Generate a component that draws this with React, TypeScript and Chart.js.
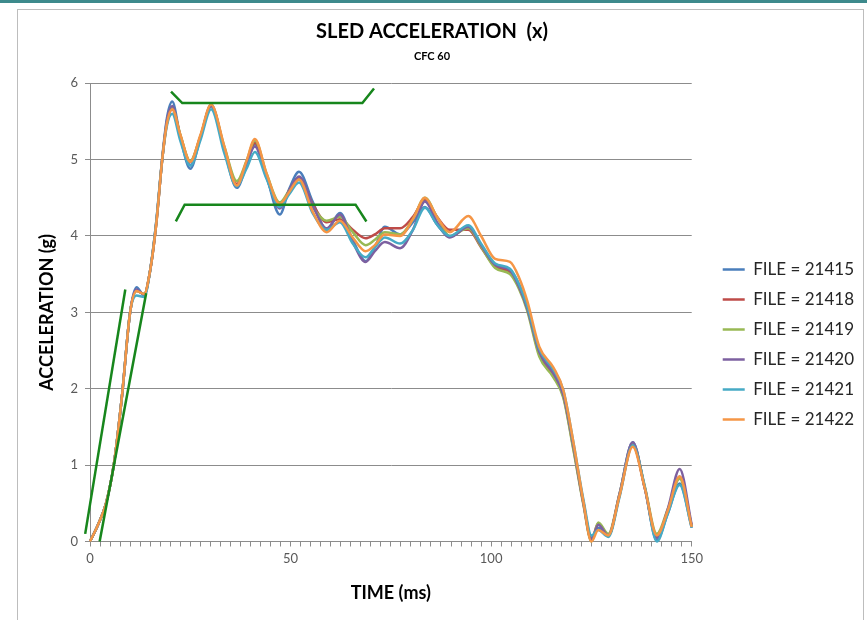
import React, { useEffect, useRef } from "react";
import { Chart, registerables } from "chart.js";

Chart.register(...registerables);

// ---- data (time in ms, acceleration in g) ----
const TIME = [
  0, 2, 4, 6, 8, 10, 11.6, 13.5, 15, 16.5, 18, 19.2, 20.5, 22.5, 25, 27.5, 30.2, 33.5, 36.6, 39,
  41.1, 44, 47.3, 49.7, 52.1, 55.5, 59, 62.3, 65.5, 68.7, 71, 73.5, 77.3, 80.5, 83.5, 86.5, 89.7,
  94.3, 97.5, 101, 104.7, 107, 109, 112, 115.5, 118, 120.5, 123, 125, 126.7, 129.2, 132, 135.3,
  138.3, 141.3, 144, 147, 150,
];

const FILE_LABELS = [
  "FILE = 21415",
  "FILE = 21418",
  "FILE = 21419",
  "FILE = 21420",
  "FILE = 21421",
  "FILE = 21422",
];

const FILE_21415 = [
  0, 0.22, 0.5, 1.03, 1.92, 3.0, 3.33, 3.22, 3.55, 4.18, 5.02, 5.55, 5.76, 5.3, 4.88, 5.28, 5.72,
  5.12, 4.63, 4.92, 5.2, 4.78, 4.28, 4.62, 4.84, 4.45, 4.08, 4.3, 3.95, 3.67, 3.85, 4.12, 4.02,
  4.18, 4.38, 4.15, 3.99, 4.12, 3.88, 3.62, 3.55, 3.36, 3.05, 2.5, 2.22, 1.95, 1.25, 0.52, 0.05,
  0.18, 0.07, 0.62, 1.3, 0.7, 0.02, 0.36, 0.76, 0.18,
];
const FILE_21418 = [
  0, 0.22, 0.5, 1.03, 1.92, 3.0, 3.28, 3.24, 3.55, 4.15, 5.0, 5.48, 5.66, 5.32, 4.97, 5.3, 5.7,
  5.15, 4.68, 4.95, 5.22, 4.8, 4.4, 4.6, 4.76, 4.42, 4.18, 4.22, 4.08, 3.97, 4.02, 4.1, 4.1, 4.25,
  4.47, 4.25, 4.08, 4.08, 3.85, 3.6, 3.52, 3.32, 3.05, 2.45, 2.18, 1.9, 1.22, 0.5, 0.02, 0.24, 0.08,
  0.6, 1.27, 0.7, 0.06, 0.4, 0.85, 0.2,
];
const FILE_21419 = [
  0, 0.22, 0.5, 1.03, 1.92, 3.0, 3.28, 3.24, 3.55, 4.15, 5.0, 5.5, 5.68, 5.33, 4.98, 5.3, 5.7, 5.17,
  4.72, 4.98, 5.25, 4.82, 4.44, 4.6, 4.74, 4.38, 4.2, 4.25, 4.05, 3.88, 3.95, 4.05, 4.02, 4.22, 4.5,
  4.25, 4.0, 4.1, 3.86, 3.58, 3.5, 3.3, 3.02, 2.42, 2.15, 1.88, 1.2, 0.48, 0.0, 0.25, 0.1, 0.62,
  1.28, 0.72, 0.1, 0.42, 0.82, 0.2,
];
const FILE_21420 = [
  0, 0.22, 0.5, 1.03, 1.92, 3.0, 3.3, 3.23, 3.55, 4.16, 5.0, 5.52, 5.7, 5.3, 4.93, 5.28, 5.7, 5.13,
  4.66, 4.95, 5.17, 4.77, 4.36, 4.6, 4.78, 4.4, 4.1, 4.28, 3.92, 3.66, 3.8, 3.92, 3.84, 4.08, 4.45,
  4.18, 3.98, 4.12, 3.88, 3.62, 3.55, 3.33, 3.05, 2.48, 2.2, 1.92, 1.25, 0.5, 0.02, 0.22, 0.08,
  0.62, 1.3, 0.7, 0.05, 0.42, 0.95, 0.22,
];
const FILE_21421 = [
  0, 0.22, 0.5, 1.03, 1.92, 3.0, 3.22, 3.2, 3.55, 4.18, 5.0, 5.45, 5.6, 5.25, 4.92, 5.25, 5.66,
  5.08, 4.65, 4.88, 5.1, 4.75, 4.38, 4.55, 4.7, 4.3, 4.08, 4.18, 3.9, 3.72, 3.85, 3.98, 3.9, 4.08,
  4.37, 4.15, 4.0, 4.14, 3.9, 3.64, 3.57, 3.36, 3.08, 2.52, 2.25, 1.98, 1.3, 0.55, 0.08, 0.15, 0.06,
  0.58, 1.26, 0.72, 0.0, 0.36, 0.74, 0.18,
];
const FILE_21422 = [
  0, 0.22, 0.5, 1.03, 1.92, 3.0, 3.28, 3.24, 3.55, 4.15, 5.0, 5.48, 5.66, 5.33, 4.97, 5.32, 5.72,
  5.17, 4.66, 4.98, 5.27, 4.82, 4.42, 4.58, 4.74, 4.32, 4.05, 4.2, 3.98, 3.8, 3.88, 4.02, 4.0, 4.22,
  4.5, 4.25, 4.05, 4.26, 4.0, 3.7, 3.66, 3.45, 3.15, 2.55, 2.28, 1.98, 1.3, 0.52, 0.0, 0.15, 0.08,
  0.6, 1.24, 0.7, 0.08, 0.4, 0.85, 0.19,
];

// corridor lines (green)
const CORRIDOR_UPPER_T = [20.2, 23.0, 67.9, 70.8];
const CORRIDOR_UPPER_G = [5.89, 5.74, 5.74, 5.93];
const CORRIDOR_LOWER_T = [21.4, 23.6, 66.2, 68.9];
const CORRIDOR_LOWER_G = [4.19, 4.41, 4.41, 4.19];
const ONSET_LEFT_T = [-1.2, 8.8];
const ONSET_LEFT_G = [0.1, 3.3];
const ONSET_RIGHT_T = [2.4, 14.0];
const ONSET_RIGHT_G = [0.0, 3.25];

const X_TICK_LABELS = [0, 50, 100, 150];

const COLORS = ["#4A7EBB", "#BE4B48", "#98B954", "#7D60A0", "#46AAC5", "#F59646"];
const GREEN = "#17861C";
const FONT = "Lato, 'Liberation Sans', sans-serif";

export default function App() {
  const ref = useRef<HTMLCanvasElement>(null);

  useEffect(() => {
    if (!ref.current) return;
    const series = [FILE_21415, FILE_21418, FILE_21419, FILE_21420, FILE_21421, FILE_21422];
    const fileSets: any[] = series.map((vals, i) => ({
      label: FILE_LABELS[i],
      data: TIME.map((t, k) => ({ x: t, y: vals[k] })),
      borderColor: COLORS[i],
      backgroundColor: COLORS[i],
      borderWidth: 2.5,
      pointRadius: 0,
      cubicInterpolationMode: "monotone",
      fill: false,
      order: 20 - i,
      clip: false,
    }));
    const corridor = (ts: number[], gs: number[], name: string) => ({
      label: name,
      data: ts.map((t, k) => ({ x: t, y: gs[k] })),
      borderColor: GREEN,
      backgroundColor: GREEN,
      borderWidth: 2.5,
      pointRadius: 0,
      tension: 0,
      fill: false,
      order: 0,
      clip: false,
    });
    const datasets = [
      ...fileSets,
      corridor(CORRIDOR_UPPER_T, CORRIDOR_UPPER_G, "upper"),
      corridor(CORRIDOR_LOWER_T, CORRIDOR_LOWER_G, "lower"),
      corridor(ONSET_LEFT_T, ONSET_LEFT_G, "onsetL"),
      corridor(ONSET_RIGHT_T, ONSET_RIGHT_G, "onsetR"),
    ];

    const chart = new Chart(ref.current, {
      type: "line",
      data: { datasets },
      options: {
        animation: false,
        responsive: false,
        devicePixelRatio: 1,
        layout: { padding: { left: 0, right: 3, top: 0, bottom: 0 } },
        plugins: {
          tooltip: { enabled: false },
          title: {
            display: true,
            text: "SLED ACCELERATION  (x)",
            color: "#000",
            font: { family: FONT, size: 20, weight: "bold" },
            padding: { top: 20, bottom: 0 },
          },
          subtitle: {
            display: true,
            text: "CFC 60",
            color: "#000",
            font: { family: FONT, size: 11, weight: "bold" },
            padding: { top: 6, bottom: 20 },
          },
          legend: {
            display: true,
            position: "right",
            align: "center",
            maxWidth: 400,
            title: { display: true, text: "", font: { size: 1 }, padding: { top: 34, bottom: 34 } },
            labels: {
              usePointStyle: true,
              pointStyle: "line",
              pointStyleWidth: 22,
              padding: 13,
              color: "#262626",
              font: { family: FONT, size: 17 },
              filter: (item: any) => item.datasetIndex < 6,
              sort: (a: any, b: any) => a.datasetIndex - b.datasetIndex,
            },
          },
        },
        scales: {
          x: {
            type: "linear",
            min: 0,
            max: 150,
            afterFit: (s: any) => {
              s.height = 78.5;
            },
            ticks: {
              stepSize: 2.5,
              autoSkip: false,
              maxRotation: 0,
              color: "#595959",
              padding: 5,
              font: { family: FONT, size: 13 },
              callback: (v: any) => (X_TICK_LABELS.includes(Number(v)) ? String(v) : ""),
            },
            grid: { drawOnChartArea: false, drawTicks: true, tickLength: 5, color: "#8C8C8C" },
            border: { color: "#8C8C8C" },
            title: {
              display: true,
              text: "TIME (ms)",
              color: "#000",
              font: { family: FONT, size: 18, weight: "bold" },
              padding: { top: 0, bottom: 16 },
            },
          },
          y: {
            type: "linear",
            min: 0,
            max: 6,
            afterFit: (s: any) => {
              s.width = 90;
            },
            ticks: {
              stepSize: 1,
              color: "#595959",
              padding: 7,
              font: { family: FONT, size: 13 },
            },
            grid: { color: "#8C8C8C", tickLength: 5 },
            border: { color: "#8C8C8C" },
            title: {
              display: true,
              text: "ACCELERATION (g)",
              color: "#000",
              font: { family: FONT, size: 18, weight: "bold" },
              padding: { top: 36, bottom: 0 },
            },
          },
          y2: {
            type: "linear",
            position: "right",
            min: 0,
            max: 6,
            display: true,
            afterFit: (s: any) => {
              s.width = 18;
            },
            ticks: { display: false },
            grid: { display: false, drawTicks: false },
            border: { display: false },
          },
        },
      } as any,
    });
    return () => chart.destroy();
  }, []);

  return (
    <div
      style={{
        position: "fixed",
        left: 0,
        top: 0,
        width: 867,
        height: 620,
        background: "#fff",
        overflow: "hidden",
      }}
    >
      <div style={{ position: "absolute", left: 0, top: 0, width: 867, height: 3, background: "#3D8A8C" }} />
      <div
        style={{
          position: "absolute",
          left: 17,
          top: 9,
          width: 847,
          height: 640,
          border: "1px solid #BDBDBD",
          boxSizing: "border-box",
        }}
      />
      <canvas ref={ref} width={867} height={620} style={{ position: "absolute", left: 0, top: 0 }} />
    </div>
  );
}
